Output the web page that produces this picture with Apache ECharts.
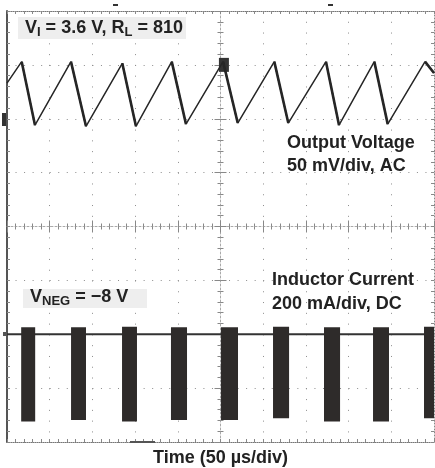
<!DOCTYPE html>
<html>
<head>
<meta charset="utf-8">
<script src="https://cdn.jsdelivr.net/npm/echarts@6/dist/echarts.min.js"></script>
<style>
  html, body { margin: 0; padding: 0; background: #fff; }
  #chart { width: 435px; height: 468px; }
</style>
</head>
<body>
<div id="chart"></div>
<script>
// time in µs relative to the trigger, amplitude in screen divisions
// output voltage (50 mV/div, AC)
const vTime = [-250, -232.8, -217.2, -175.1, -157.5, -115, -99, -57.1, -40.4, 3, 20.2, 63, 79.4, 123.5, 138.8, 180.1, 195.8, 239.5, 250];
const vDiv  = [2.66, 3.06, 1.88, 3.06, 1.86, 3.03, 1.86, 3.06, 1.90, 3.06, 1.92, 3.06, 1.92, 3.06, 1.88, 3.06, 1.90, 3.06, 2.85];

// inductor current (200 mA/div, DC): switching bursts
const burstStart  = [-233.4, -175, -115.3, -58, 0.6, 61.5, 121.2, 178.6, 238.3];
const burstEnd    = [-217, -157.5, -97.8, -39.2, 20.5, 80.3, 140, 197.3, 250];
const burstTop    = [-1.87, -1.87, -1.86, -1.87, -1.87, -1.86, -1.87, -1.87, -1.86];
const burstBottom = [-3.62, -3.59, -3.62, -3.59, -3.59, -3.56, -3.62, -3.62, -3.56];
const iBaseline = -2;

// trigger point marker
const trigger = [4, 3.0];

const FONT = '"Liberation Sans", Arial, sans-serif';
const INK = '#222';
const GRID = '#8c8c8c';

const vData = vTime.map((t, i) => [t, vDiv[i]]);
const fallEdges = [];
for (let i = 0; i < vTime.length - 1; i++) {
  if (vDiv[i + 1] < vDiv[i]) {
    fallEdges.push({ coords: [[vTime[i], vDiv[i]], [vTime[i + 1], vDiv[i + 1]]] });
  }
}
const bursts = burstStart.map((s, i) => [s, burstEnd[i], burstTop[i], burstBottom[i]]);

function xAx(extra) {
  return Object.assign({
    type: 'value', min: -250, max: 250, interval: 50,
    axisLabel: { show: false },
    splitLine: { show: false },
    axisLine: { show: false, onZero: false },
    axisTick: { show: false },
    minorTick: { show: false }
  }, extra);
}
function yAx(extra) {
  return Object.assign({
    type: 'value', min: -4, max: 4, interval: 1,
    axisLabel: { show: false },
    splitLine: { show: false },
    axisLine: { show: false, onZero: false },
    axisTick: { show: false },
    minorTick: { show: false }
  }, extra);
}

const tickStyle = { color: '#888', width: 1 };
const minor = { show: true, splitNumber: 5, length: 3, lineStyle: tickStyle };

const option = {
  animation: false,
  backgroundColor: '#fff',
  grid: { left: 7, top: 11, width: 427, height: 431 },
  xAxis: [
    // centre line, ticks up, carries the vertical grid
    xAx({
      position: 'bottom',
      axisLine: { show: true, onZero: true, onZeroAxisIndex: 0, lineStyle: { color: '#aaa', type: [2, 2] } },
      axisTick: { show: true, inside: true, length: 6, lineStyle: tickStyle },
      minorTick: minor,
      splitLine: { show: true, lineStyle: { color: GRID, width: 1, type: [1, 9.78] } }
    }),
    // centre line, ticks down
    xAx({
      position: 'bottom',
      axisLine: { show: false, onZero: true, onZeroAxisIndex: 0 },
      axisTick: { show: true, inside: false, length: 6, lineStyle: tickStyle },
      minorTick: minor
    }),
    // top border
    xAx({
      position: 'top',
      axisLine: { show: true, onZero: false, lineStyle: { color: '#777', type: [1, 1] } },
      axisTick: { show: true, inside: true, length: 3, lineStyle: tickStyle },
      minorTick: minor
    }),
    // bottom border
    xAx({
      position: 'bottom',
      axisLine: { show: true, onZero: false, lineStyle: { color: '#777', type: [1, 1] } },
      axisTick: { show: true, inside: true, length: 3, lineStyle: tickStyle },
      minorTick: minor
    })
  ],
  yAxis: [
    yAx({
      position: 'left',
      axisLine: { show: true, onZero: true, onZeroAxisIndex: 0, lineStyle: { color: '#aaa', type: [2, 2] } },
      axisTick: { show: true, inside: true, length: 6, lineStyle: tickStyle },
      minorTick: minor,
      splitLine: { show: true, lineStyle: { color: GRID, width: 1, type: [1, 7.54] } }
    }),
    yAx({
      position: 'left',
      axisLine: { show: false, onZero: true, onZeroAxisIndex: 0 },
      axisTick: { show: true, inside: false, length: 6, lineStyle: tickStyle },
      minorTick: minor
    }),
    // left border
    yAx({
      position: 'left',
      axisLine: { show: true, onZero: false, lineStyle: { color: '#555', width: 2 } },
      axisTick: { show: true, inside: true, length: 3, lineStyle: tickStyle },
      minorTick: minor
    }),
    // right border
    yAx({
      position: 'right',
      axisLine: { show: true, onZero: false, lineStyle: { color: '#888', type: [1, 2] } },
      axisTick: { show: true, inside: true, length: 3, lineStyle: tickStyle },
      minorTick: minor
    })
  ],
  series: [
    {
      name: 'Inductor baseline',
      type: 'line',
      data: [[-250, iBaseline], [250, iBaseline]],
      symbol: 'none',
      lineStyle: { color: '#333', width: 2 },
      z: 3
    },
    {
      name: 'Inductor Current',
      type: 'custom',
      data: bursts,
      encode: { x: [0, 1], y: [2, 3] },
      clip: true,
      z: 4,
      renderItem: function (params, api) {
        const p0 = api.coord([api.value(0), api.value(2)]);
        const p1 = api.coord([api.value(1), api.value(3)]);
        return {
          type: 'rect',
          shape: { x: p0[0], y: p0[1], width: p1[0] - p0[0], height: p1[1] - p0[1] },
          style: { fill: '#2e2b2a' }
        };
      }
    },
    {
      name: 'Output Voltage',
      type: 'line',
      data: vData,
      symbol: 'none',
      lineStyle: { color: '#262626', width: 1.5 },
      z: 5,
      markPoint: {
        symbol: 'rect',
        symbolSize: [10, 14],
        label: { show: false },
        itemStyle: { color: '#333' },
        data: [{ coord: trigger }]
      }
    },
    {
      name: 'Output Voltage edges',
      type: 'lines',
      coordinateSystem: 'cartesian2d',
      data: fallEdges,
      lineStyle: { color: '#262626', width: 2.6, opacity: 1 },
      z: 5
    }
  ],
  graphic: [
    { type: 'rect', z: 10, shape: { x: 18, y: 17, width: 168, height: 22 }, style: { fill: '#eeeeee' } },
    { type: 'rect', z: 10, shape: { x: 23, y: 289, width: 124, height: 19 }, style: { fill: '#eeeeee' } },
    {
      type: 'text', z: 11, x: 25, y: 28.5,
      style: {
        text: '{m|V}{s|I}{m| = 3.6 V, R}{s|L}{m| = 810}',
        verticalAlign: 'middle', align: 'left',
        rich: {
          m: { fontSize: 18, fontWeight: 'bold', fontFamily: FONT, lineHeight: 24, fill: INK },
          s: { fontSize: 13, fontWeight: 'bold', fontFamily: FONT, lineHeight: 24, padding: [8, 0, 0, 0], fill: INK }
        }
      }
    },
    {
      type: 'text', z: 11, x: 30, y: 297,
      style: {
        text: '{m|V}{s|NEG}{m| = \u22128 V}',
        verticalAlign: 'middle', align: 'left',
        rich: {
          m: { fontSize: 18, fontWeight: 'bold', fontFamily: FONT, lineHeight: 24, fill: INK },
          s: { fontSize: 13, fontWeight: 'bold', fontFamily: FONT, lineHeight: 24, padding: [8, 0, 0, 0], fill: INK }
        }
      }
    },
    { type: 'text', z: 11, x: 287, y: 143.5, style: { text: 'Output Voltage', font: 'bold 18px ' + FONT, fill: INK, verticalAlign: 'middle' } },
    { type: 'text', z: 11, x: 287, y: 166.5, style: { text: '50 mV/div, AC', font: 'bold 18px ' + FONT, fill: INK, verticalAlign: 'middle' } },
    { type: 'text', z: 11, x: 272, y: 280, style: { text: 'Inductor Current', font: 'bold 18px ' + FONT, fill: INK, verticalAlign: 'middle' } },
    { type: 'text', z: 11, x: 272, y: 304, style: { text: '200 mA/div, DC', font: 'bold 18px ' + FONT, fill: INK, verticalAlign: 'middle' } },
    { type: 'text', z: 11, x: 220.5, y: 458, style: { text: 'Time (50 \u00b5s/div)', font: 'bold 18px ' + FONT, fill: INK, align: 'center', verticalAlign: 'middle' } },
    // scope channel / trigger markers
    { type: 'rect', z: 11, shape: { x: 2, y: 113, width: 4, height: 13 }, style: { fill: '#333' } },
    { type: 'rect', z: 11, shape: { x: 3, y: 332, width: 3, height: 4 }, style: { fill: '#555' } },
    { type: 'rect', z: 11, shape: { x: 113, y: 4, width: 5, height: 2 }, style: { fill: '#333' } },
    { type: 'rect', z: 11, shape: { x: 328, y: 4, width: 5, height: 2 }, style: { fill: '#333' } },
    { type: 'rect', z: 11, shape: { x: 130, y: 441, width: 25, height: 2 }, style: { fill: '#555' } }
  ]
};

const chart = echarts.init(document.getElementById('chart'));
chart.setOption(option);
</script>
</body>
</html>
